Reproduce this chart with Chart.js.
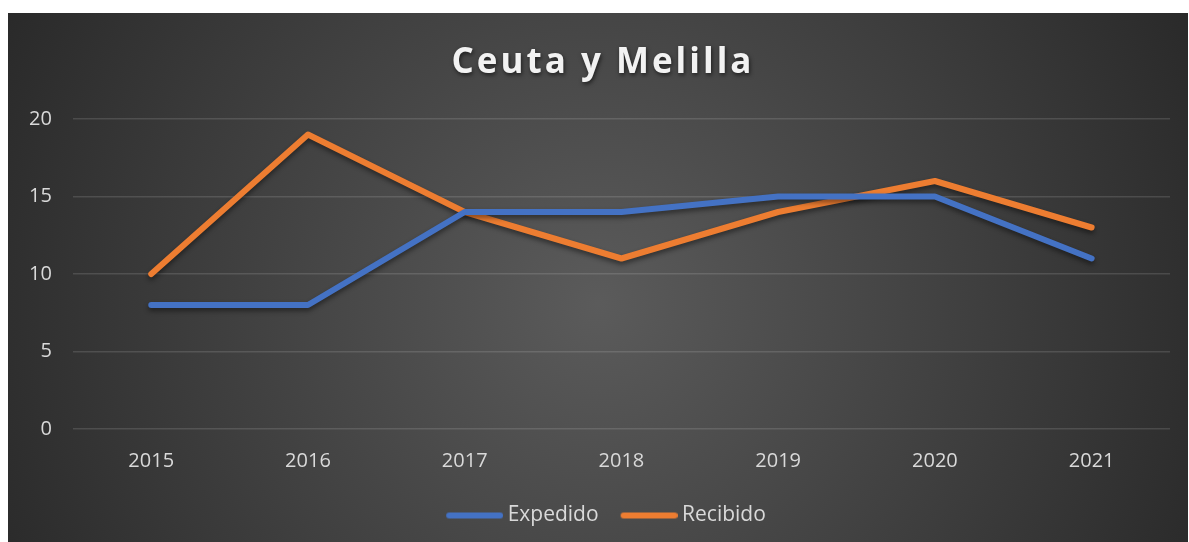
<!DOCTYPE html>
<html>
<head>
<meta charset="utf-8">
<script src="https://cdn.jsdelivr.net/npm/chart.js@4"></script>
<style>
    html, body { margin: 0; padding: 0; background: #fff; }
    #wrap { position: absolute; left: 8px; top: 13px; width: 1180px; height: 529px; }
</style>
</head>
<body>
<div id="wrap"><canvas id="chart"></canvas></div>
<script>
// --- Data ---
const chartTitle = 'Ceuta y Melilla';
const years = ['2015', '2016', '2017', '2018', '2019', '2020', '2021'];
const expedido = [8, 8, 14, 14, 15, 15, 11];
const recibido = [10, 19, 14, 11, 14, 16, 13];
const yTicks = [0, 5, 10, 15, 20];

const FONT = "'Open Sans', 'Noto Sans', sans-serif";
const BLUE = '#4472c4';
const ORANGE = '#ed7d31';

// legend swatch: a rounded line sitting close to its label
function swatch(color) {
    const c = document.createElement('canvas');
    c.width = 69; c.height = 8;
    const g = c.getContext('2d');
    g.strokeStyle = color;
    g.lineWidth = 6;
    g.lineCap = 'round';
    g.beginPath();
    g.moveTo(15, 4);
    g.lineTo(66, 4);
    g.stroke();
    return c;
}

// radial dark background + spaced title with shadow
const backdrop = {
    id: 'backdrop',
    beforeDraw(chart) {
        const { ctx, width, height } = chart;
        const g = ctx.createRadialGradient(width / 2, height * 0.55, 0, width / 2, height * 0.55, width * 0.6);
        g.addColorStop(0, '#5b5b5b');
        g.addColorStop(1, '#262626');
        ctx.save();
        ctx.fillStyle = g;
        ctx.fillRect(0, 0, width, height);
        ctx.restore();
    },
    afterLayout(chart) {
        // nudge legend to sit where the original one does
        const lg = chart.legend;
        lg.left += 14; lg.right += 14;
        lg.top += 4; lg.bottom += 4;
    },
    afterDraw(chart) {
        const { ctx, width } = chart;
        ctx.save();
        ctx.font = `bold 35px ${FONT}`;
        ctx.letterSpacing = '3px';
        ctx.textAlign = 'center';
        ctx.textBaseline = 'middle';
        ctx.shadowColor = 'rgba(0,0,0,0.6)';
        ctx.shadowBlur = 4;
        ctx.shadowOffsetX = 1;
        ctx.shadowOffsetY = 2;
        ctx.fillStyle = '#f2f2f2';
        ctx.fillText(chartTitle, width / 2 + 5, 50);
        ctx.restore();
    },
    beforeDatasetsDraw(chart) {
        const ctx = chart.ctx;
        ctx.save();
        ctx.shadowColor = 'rgba(0,0,0,0.45)';
        ctx.shadowBlur = 5;
        ctx.shadowOffsetY = 3;
    },
    afterDatasetsDraw(chart) {
        chart.ctx.restore();
    }
};

new Chart(document.getElementById('chart'), {
    type: 'line',
    data: {
        labels: years,
        datasets: [
            {
                label: 'Expedido',
                data: expedido,
                borderColor: BLUE,
                backgroundColor: BLUE,
                pointStyle: swatch(BLUE),
                borderWidth: 6, pointRadius: 0, tension: 0,
                borderCapStyle: 'round', borderJoinStyle: 'round'
            },
            {
                label: 'Recibido',
                data: recibido,
                borderColor: ORANGE,
                backgroundColor: ORANGE,
                pointStyle: swatch(ORANGE),
                borderWidth: 6, pointRadius: 0, tension: 0,
                borderCapStyle: 'round', borderJoinStyle: 'round'
            }
        ]
    },
    options: {
        responsive: true, maintainAspectRatio: false, animation: false,
        layout: { padding: { top: 106, left: 0, right: 18, bottom: 10 } },
        plugins: {
            title: { display: false },
            tooltip: { enabled: false },
            legend: {
                position: 'bottom',
                labels: {
                    color: '#d9d9d9',
                    font: { family: FONT, size: 21 },
                    usePointStyle: true,
                    pointStyleWidth: 57,
                    boxHeight: 6,
                    padding: 16
                }
            }
        },
        scales: {
            x: {
                offset: true,
                grid: { display: false },
                border: { display: false },
                ticks: { color: '#d9d9d9', font: { family: FONT, size: 20 }, padding: 12 }
            },
            y: {
                min: 0, max: 20,
                afterBuildTicks(axis) { axis.ticks = yTicks.map(v => ({ value: v })); },
                grid: { color: 'rgba(255,255,255,0.13)', lineWidth: 1.5, drawTicks: false },
                border: { display: false },
                ticks: { color: '#d9d9d9', font: { family: FONT, size: 20 }, padding: 21 }
            }
        }
    },
    plugins: [backdrop]
});
</script>
</body>
</html>
